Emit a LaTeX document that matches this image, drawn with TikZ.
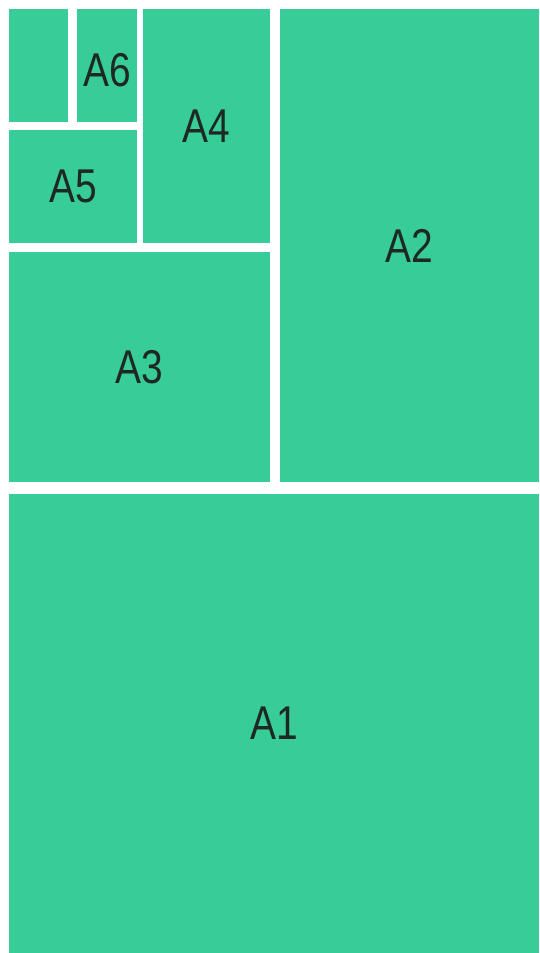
\documentclass[tikz,border=0pt]{standalone}
\usepackage{fontspec}
\setmainfont{Liberation Sans}
\definecolor{tilegreen}{RGB}{56,204,152}
\definecolor{labelgray}{RGB}{30,40,36}

\begin{document}
\begin{tikzpicture}[x=0.02cm,y=-0.02cm,
    tile/.style={fill=tilegreen},
    lab/.style={text=labelgray,font=\fontsize{27}{27}\selectfont,xscale=0.82}]
  \useasboundingbox[fill=white] (0,0) rectangle (539,953);

  % bottom tile
  \fill[tile] (9,494) rectangle (539,953);
  \node[lab] (a1) at (274,723) {A1};

  % right tile
  \fill[tile] (280,9) rectangle (539,482);
  \node[lab] (a2) at (409,246) {A2};

  % left column
  \fill[tile] (9,252) rectangle (270,482);
  \node[lab] (a3) at (139,367) {A3};
  \fill[tile] (143,9) rectangle (270,243);
  \node[lab] (a4) at (206,126) {A4};
  \fill[tile] (9,130) rectangle (137,243);
  \node[lab] (a5) at (73,186) {A5};
  \fill[tile] (77,9) rectangle (137,122);
  \node[lab] (a6) at (107,70) {A6};
  \fill[tile] (9,9) rectangle (68,122);
\end{tikzpicture}
\end{document}
